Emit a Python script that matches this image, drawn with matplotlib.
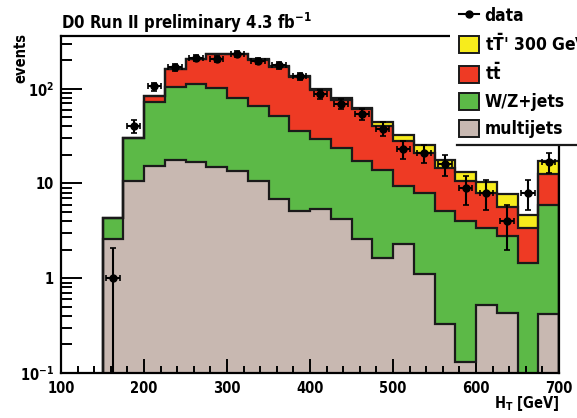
import numpy as np
import matplotlib
matplotlib.use("Agg")
import matplotlib.pyplot as plt
from matplotlib.patches import Rectangle, Patch
from matplotlib.lines import Line2D

plt.rcParams["font.family"] = ["DejaVu Sans"]
plt.rcParams["font.stretch"] = "condensed"
plt.rcParams["font.weight"] = "bold"
plt.rcParams["axes.labelweight"] = "bold"
plt.rcParams["mathtext.default"] = "regular"

# H_T bins, 25 GeV wide
edges = np.arange(150, 701, 25)

multijets = [2.6, 10.6, 15.3, 17.5, 16.9, 15.1, 13.4, 10.6, 6.8, 5.1, 5.4,
             4.2, 2.6, 1.65, 2.3, 1.1, 0.33, 0.13, 0.52, 0.43, 0.0, 0.42]
wzjets = [1.7, 19.4, 56.7, 87.5, 96.0, 86.0, 65.6, 55.4, 44.7, 30.8, 24.0,
          19.2, 14.8, 12.25, 7.1, 6.9, 4.77, 3.87, 2.91, 2.37, 1.45, 5.58]
ttbar = [0.0, 0.3, 12.0, 56.0, 92.0, 131.0, 151.0, 134.0, 117.0, 98.0, 68.0,
         53.0, 43.0, 27.0, 19.0, 13.0, 9.3, 6.7, 4.6, 2.9, 1.9, 6.5]
tprime = [0.0, 0.0, 0.3, 0.8, 1.5, 2.5, 3.0, 3.5, 3.5, 3.5, 3.0,
          2.5, 2.5, 3.4, 4.4, 4.2, 3.2, 2.6, 2.4, 2.0, 1.25, 4.8]

data = [1, 40, 106, 168, 210, 207, 232, 197, 176, 136, 87,
        69, 54, 38, 23, 21, 16, 9, 8, 4, 8, 17]
data_err_up = [1.1, 6.3, 10.3, 13.0, 14.5, 14.4, 15.2, 14.0, 13.3, 11.7, 9.3,
               8.3, 7.3, 6.2, 4.8, 4.6, 4.0, 3.0, 2.8, 2.0, 2.8, 4.1]
data_err_dn = [0.999, 6.3, 10.3, 13.0, 14.5, 14.4, 15.2, 14.0, 13.3, 11.7, 9.3,
               8.3, 7.3, 6.2, 4.8, 4.6, 4.0, 3.0, 2.8, 2.0, 2.8, 4.1]

labels = ["data", r"t$\bar{T}$' 300 GeV", r"t$\bar{t}$",
          "W/Z+jets", "multijets"]
colors = {"tprime": "#f7ec1c", "ttbar": "#ee3a24", "wz": "#5cb947",
          "mj": "#c8b8b1"}

W, H = 577, 418
fig = plt.figure(figsize=(W / 100, H / 100), dpi=100)
ax = fig.add_axes([61 / W, 1 - 373 / H, (559 - 61) / W, (373 - 36) / H])
ax.set_yscale("log")
ax.set_xlim(100, 700)
ax.set_ylim(0.1, 360)

# stacked backgrounds, drawn from the top of the stack downwards
base = 1e-3
c_mj = np.array(multijets)
c_wz = c_mj + np.array(wzjets)
c_tt = c_wz + np.array(ttbar)
c_tp = c_tt + np.array(tprime)
for cum, col in [(c_tp, colors["tprime"]), (c_tt, colors["ttbar"]),
                 (c_wz, colors["wz"]), (c_mj, colors["mj"])]:
    ax.stairs(np.maximum(cum, base), edges, baseline=base, fill=True,
              facecolor=col, edgecolor="none", zorder=1)
    ax.stairs(np.maximum(cum, base), edges, baseline=base, fill=False,
              color="#1a1a1a", linewidth=1.6, zorder=2)

centers = 0.5 * (edges[:-1] + edges[1:])
ax.errorbar(centers, data, yerr=[data_err_dn, data_err_up], xerr=8,
            fmt="o", color="black", markersize=5, elinewidth=1.5,
            capsize=2, capthick=1.2, zorder=5)

# axes styling
for s in ax.spines.values():
    s.set_linewidth(1.6)
    s.set_zorder(6)
ax.set_xticks([100, 200, 300, 400, 500, 600, 700])
ax.set_xticks(np.arange(100, 701, 20), minor=True)
ax.set_yticks([0.1, 1, 10, 100])
ax.set_yticklabels([r"$10^{-1}$", "1", "10", r"$10^{2}$"])
ax.tick_params(axis="both", which="both", direction="in", labelsize=10.5,
               width=1.4)
ax.tick_params(axis="x", which="major", length=10, pad=6)
ax.tick_params(axis="x", which="minor", length=5)
ax.tick_params(axis="y", which="major", length=15, pad=5)
ax.tick_params(axis="y", which="minor", length=8)
ax.tick_params(top=False, right=False, which="both")

ax.set_ylabel("events", fontsize=10.5, loc="top")
ax.yaxis.set_label_coords(-0.066, 1.01)
ax.set_xlabel(r"H$_{T}$ [GeV]", fontsize=10.5, loc="right")
ax.xaxis.set_label_coords(1.0, -0.062)

fig.text(61 / W, 1 - 23 / H, r"D0 Run II preliminary 4.3 fb$^{-1}$",
         fontsize=12, ha="left", va="center")

# legend panel over the top-right corner
fig.add_artist(Rectangle((450 / W, 1 - 144 / H), (W - 450) / W, 144 / H,
                         transform=fig.transFigure, facecolor="white",
                         edgecolor="none", zorder=3))
fig.add_artist(Line2D([457 / W, 1.0], [1 - 145 / H] * 2,
                      transform=fig.transFigure, color="#1a1a1a",
                      linewidth=1.6, zorder=4))
handles = [
    Line2D([], [], color="black", marker="o", markersize=5, linewidth=1.5),
    Patch(facecolor=colors["tprime"], edgecolor="#1a1a1a", linewidth=1.4),
    Patch(facecolor=colors["ttbar"], edgecolor="#1a1a1a", linewidth=1.4),
    Patch(facecolor=colors["wz"], edgecolor="#1a1a1a", linewidth=1.4),
    Patch(facecolor=colors["mj"], edgecolor="#1a1a1a", linewidth=1.4),
]
leg = fig.legend(handles, labels, loc="upper left",
                 bbox_to_anchor=(456 / W, 1 - 3 / H), frameon=False,
                 fontsize=12.5,
                 handlelength=1.15, handleheight=1.15, handletextpad=0.3,
                 labelspacing=0.48, borderpad=0.2, borderaxespad=0.0)
leg.set_zorder(5)

fig.savefig("out.png", dpi=100)
